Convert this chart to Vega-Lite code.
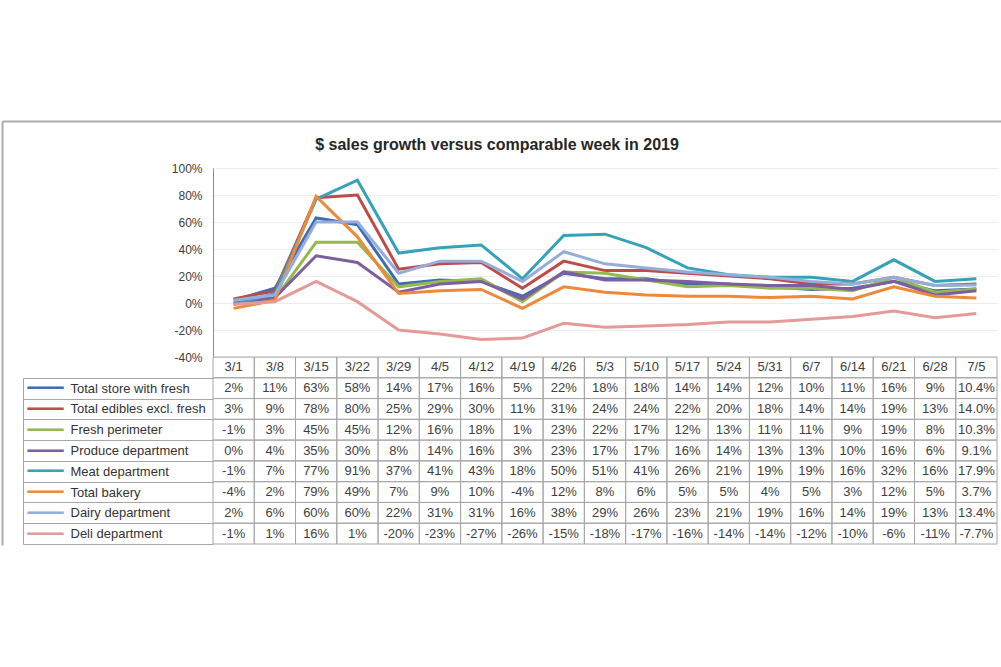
{
  "$schema": "https://vega.github.io/schema/vega-lite/v6.json",
  "width": 784,
  "height": 376,
  "autosize": {"type": "none"},
  "padding": {"left": 213, "top": 168, "right": 4, "bottom": 123},
  "background": "white",
  "title": {"text": "$ sales growth versus comparable week in 2019", "font": "Liberation Sans", "fontSize": 16, "fontWeight": "bold", "color": "#262626", "anchor": "middle", "dx": -108, "dy": 47, "offset": 12},
  "config": {
    "view": {"stroke": null},
    "locale": {"number": {"decimal": ".", "thousands": ",", "grouping": [3], "currency": ["$", ""], "minus": "-"}}
  },
  "datasets": {
    "weeks": [
      {"week": "3/1"}, {"week": "3/8"}, {"week": "3/15"}, {"week": "3/22"}, {"week": "3/29"}, {"week": "4/5"}, {"week": "4/12"}, {"week": "4/19"}, {"week": "4/26"}, {"week": "5/3"}, {"week": "5/10"}, {"week": "5/17"}, {"week": "5/24"}, {"week": "5/31"}, {"week": "6/7"}, {"week": "6/14"}, {"week": "6/21"}, {"week": "6/28"}, {"week": "7/5"}
    ],
    "sales": [
      {"series": "Total store with fresh", "week": "3/1", "value": 0.02},
      {"series": "Total store with fresh", "week": "3/8", "value": 0.11},
      {"series": "Total store with fresh", "week": "3/15", "value": 0.63},
      {"series": "Total store with fresh", "week": "3/22", "value": 0.58},
      {"series": "Total store with fresh", "week": "3/29", "value": 0.14},
      {"series": "Total store with fresh", "week": "4/5", "value": 0.17},
      {"series": "Total store with fresh", "week": "4/12", "value": 0.16},
      {"series": "Total store with fresh", "week": "4/19", "value": 0.05},
      {"series": "Total store with fresh", "week": "4/26", "value": 0.22},
      {"series": "Total store with fresh", "week": "5/3", "value": 0.18},
      {"series": "Total store with fresh", "week": "5/10", "value": 0.18},
      {"series": "Total store with fresh", "week": "5/17", "value": 0.14},
      {"series": "Total store with fresh", "week": "5/24", "value": 0.14},
      {"series": "Total store with fresh", "week": "5/31", "value": 0.12},
      {"series": "Total store with fresh", "week": "6/7", "value": 0.10},
      {"series": "Total store with fresh", "week": "6/14", "value": 0.11},
      {"series": "Total store with fresh", "week": "6/21", "value": 0.16},
      {"series": "Total store with fresh", "week": "6/28", "value": 0.09},
      {"series": "Total store with fresh", "week": "7/5", "value": 0.104},
      {"series": "Total edibles excl. fresh", "week": "3/1", "value": 0.03},
      {"series": "Total edibles excl. fresh", "week": "3/8", "value": 0.09},
      {"series": "Total edibles excl. fresh", "week": "3/15", "value": 0.78},
      {"series": "Total edibles excl. fresh", "week": "3/22", "value": 0.80},
      {"series": "Total edibles excl. fresh", "week": "3/29", "value": 0.25},
      {"series": "Total edibles excl. fresh", "week": "4/5", "value": 0.29},
      {"series": "Total edibles excl. fresh", "week": "4/12", "value": 0.30},
      {"series": "Total edibles excl. fresh", "week": "4/19", "value": 0.11},
      {"series": "Total edibles excl. fresh", "week": "4/26", "value": 0.31},
      {"series": "Total edibles excl. fresh", "week": "5/3", "value": 0.24},
      {"series": "Total edibles excl. fresh", "week": "5/10", "value": 0.24},
      {"series": "Total edibles excl. fresh", "week": "5/17", "value": 0.22},
      {"series": "Total edibles excl. fresh", "week": "5/24", "value": 0.20},
      {"series": "Total edibles excl. fresh", "week": "5/31", "value": 0.18},
      {"series": "Total edibles excl. fresh", "week": "6/7", "value": 0.14},
      {"series": "Total edibles excl. fresh", "week": "6/14", "value": 0.14},
      {"series": "Total edibles excl. fresh", "week": "6/21", "value": 0.19},
      {"series": "Total edibles excl. fresh", "week": "6/28", "value": 0.13},
      {"series": "Total edibles excl. fresh", "week": "7/5", "value": 0.140},
      {"series": "Fresh perimeter", "week": "3/1", "value": -0.01},
      {"series": "Fresh perimeter", "week": "3/8", "value": 0.03},
      {"series": "Fresh perimeter", "week": "3/15", "value": 0.45},
      {"series": "Fresh perimeter", "week": "3/22", "value": 0.45},
      {"series": "Fresh perimeter", "week": "3/29", "value": 0.12},
      {"series": "Fresh perimeter", "week": "4/5", "value": 0.16},
      {"series": "Fresh perimeter", "week": "4/12", "value": 0.18},
      {"series": "Fresh perimeter", "week": "4/19", "value": 0.01},
      {"series": "Fresh perimeter", "week": "4/26", "value": 0.23},
      {"series": "Fresh perimeter", "week": "5/3", "value": 0.22},
      {"series": "Fresh perimeter", "week": "5/10", "value": 0.17},
      {"series": "Fresh perimeter", "week": "5/17", "value": 0.12},
      {"series": "Fresh perimeter", "week": "5/24", "value": 0.13},
      {"series": "Fresh perimeter", "week": "5/31", "value": 0.11},
      {"series": "Fresh perimeter", "week": "6/7", "value": 0.11},
      {"series": "Fresh perimeter", "week": "6/14", "value": 0.09},
      {"series": "Fresh perimeter", "week": "6/21", "value": 0.19},
      {"series": "Fresh perimeter", "week": "6/28", "value": 0.08},
      {"series": "Fresh perimeter", "week": "7/5", "value": 0.103},
      {"series": "Produce department", "week": "3/1", "value": 0.0},
      {"series": "Produce department", "week": "3/8", "value": 0.04},
      {"series": "Produce department", "week": "3/15", "value": 0.35},
      {"series": "Produce department", "week": "3/22", "value": 0.30},
      {"series": "Produce department", "week": "3/29", "value": 0.08},
      {"series": "Produce department", "week": "4/5", "value": 0.14},
      {"series": "Produce department", "week": "4/12", "value": 0.16},
      {"series": "Produce department", "week": "4/19", "value": 0.03},
      {"series": "Produce department", "week": "4/26", "value": 0.23},
      {"series": "Produce department", "week": "5/3", "value": 0.17},
      {"series": "Produce department", "week": "5/10", "value": 0.17},
      {"series": "Produce department", "week": "5/17", "value": 0.16},
      {"series": "Produce department", "week": "5/24", "value": 0.14},
      {"series": "Produce department", "week": "5/31", "value": 0.13},
      {"series": "Produce department", "week": "6/7", "value": 0.13},
      {"series": "Produce department", "week": "6/14", "value": 0.10},
      {"series": "Produce department", "week": "6/21", "value": 0.16},
      {"series": "Produce department", "week": "6/28", "value": 0.06},
      {"series": "Produce department", "week": "7/5", "value": 0.091},
      {"series": "Meat department", "week": "3/1", "value": -0.01},
      {"series": "Meat department", "week": "3/8", "value": 0.07},
      {"series": "Meat department", "week": "3/15", "value": 0.77},
      {"series": "Meat department", "week": "3/22", "value": 0.91},
      {"series": "Meat department", "week": "3/29", "value": 0.37},
      {"series": "Meat department", "week": "4/5", "value": 0.41},
      {"series": "Meat department", "week": "4/12", "value": 0.43},
      {"series": "Meat department", "week": "4/19", "value": 0.18},
      {"series": "Meat department", "week": "4/26", "value": 0.50},
      {"series": "Meat department", "week": "5/3", "value": 0.51},
      {"series": "Meat department", "week": "5/10", "value": 0.41},
      {"series": "Meat department", "week": "5/17", "value": 0.26},
      {"series": "Meat department", "week": "5/24", "value": 0.21},
      {"series": "Meat department", "week": "5/31", "value": 0.19},
      {"series": "Meat department", "week": "6/7", "value": 0.19},
      {"series": "Meat department", "week": "6/14", "value": 0.16},
      {"series": "Meat department", "week": "6/21", "value": 0.32},
      {"series": "Meat department", "week": "6/28", "value": 0.16},
      {"series": "Meat department", "week": "7/5", "value": 0.179},
      {"series": "Total bakery", "week": "3/1", "value": -0.04},
      {"series": "Total bakery", "week": "3/8", "value": 0.02},
      {"series": "Total bakery", "week": "3/15", "value": 0.79},
      {"series": "Total bakery", "week": "3/22", "value": 0.49},
      {"series": "Total bakery", "week": "3/29", "value": 0.07},
      {"series": "Total bakery", "week": "4/5", "value": 0.09},
      {"series": "Total bakery", "week": "4/12", "value": 0.10},
      {"series": "Total bakery", "week": "4/19", "value": -0.04},
      {"series": "Total bakery", "week": "4/26", "value": 0.12},
      {"series": "Total bakery", "week": "5/3", "value": 0.08},
      {"series": "Total bakery", "week": "5/10", "value": 0.06},
      {"series": "Total bakery", "week": "5/17", "value": 0.05},
      {"series": "Total bakery", "week": "5/24", "value": 0.05},
      {"series": "Total bakery", "week": "5/31", "value": 0.04},
      {"series": "Total bakery", "week": "6/7", "value": 0.05},
      {"series": "Total bakery", "week": "6/14", "value": 0.03},
      {"series": "Total bakery", "week": "6/21", "value": 0.12},
      {"series": "Total bakery", "week": "6/28", "value": 0.05},
      {"series": "Total bakery", "week": "7/5", "value": 0.037},
      {"series": "Dairy department", "week": "3/1", "value": 0.02},
      {"series": "Dairy department", "week": "3/8", "value": 0.06},
      {"series": "Dairy department", "week": "3/15", "value": 0.60},
      {"series": "Dairy department", "week": "3/22", "value": 0.60},
      {"series": "Dairy department", "week": "3/29", "value": 0.22},
      {"series": "Dairy department", "week": "4/5", "value": 0.31},
      {"series": "Dairy department", "week": "4/12", "value": 0.31},
      {"series": "Dairy department", "week": "4/19", "value": 0.16},
      {"series": "Dairy department", "week": "4/26", "value": 0.38},
      {"series": "Dairy department", "week": "5/3", "value": 0.29},
      {"series": "Dairy department", "week": "5/10", "value": 0.26},
      {"series": "Dairy department", "week": "5/17", "value": 0.23},
      {"series": "Dairy department", "week": "5/24", "value": 0.21},
      {"series": "Dairy department", "week": "5/31", "value": 0.19},
      {"series": "Dairy department", "week": "6/7", "value": 0.16},
      {"series": "Dairy department", "week": "6/14", "value": 0.14},
      {"series": "Dairy department", "week": "6/21", "value": 0.19},
      {"series": "Dairy department", "week": "6/28", "value": 0.13},
      {"series": "Dairy department", "week": "7/5", "value": 0.134},
      {"series": "Deli department", "week": "3/1", "value": -0.01},
      {"series": "Deli department", "week": "3/8", "value": 0.01},
      {"series": "Deli department", "week": "3/15", "value": 0.16},
      {"series": "Deli department", "week": "3/22", "value": 0.01},
      {"series": "Deli department", "week": "3/29", "value": -0.20},
      {"series": "Deli department", "week": "4/5", "value": -0.23},
      {"series": "Deli department", "week": "4/12", "value": -0.27},
      {"series": "Deli department", "week": "4/19", "value": -0.26},
      {"series": "Deli department", "week": "4/26", "value": -0.15},
      {"series": "Deli department", "week": "5/3", "value": -0.18},
      {"series": "Deli department", "week": "5/10", "value": -0.17},
      {"series": "Deli department", "week": "5/17", "value": -0.16},
      {"series": "Deli department", "week": "5/24", "value": -0.14},
      {"series": "Deli department", "week": "5/31", "value": -0.14},
      {"series": "Deli department", "week": "6/7", "value": -0.12},
      {"series": "Deli department", "week": "6/14", "value": -0.10},
      {"series": "Deli department", "week": "6/21", "value": -0.06},
      {"series": "Deli department", "week": "6/28", "value": -0.11},
      {"series": "Deli department", "week": "7/5", "value": -0.077}
    ]
  },
  "layer": [
    {
      "data": {"name": "weeks"},
      "mark": {"type": "point", "opacity": 0},
      "encoding": {
        "x": {"field": "week", "type": "nominal", "sort": null,
              "scale": {"type": "point", "domain": ["3/1","3/8","3/15","3/22","3/29","4/5","4/12","4/19","4/26","5/3","5/10","5/17","5/24","5/31","6/7","6/14","6/21","6/28","7/5"], "range": [-211, 788], "padding": 0},
              "axis": {"orient": "top", "offset": 47, "title": null, "domain": true, "domainColor": "#ababab", "domainWidth": 2, "ticks": false, "labels": false, "grid": false}},
        "y": {"field": "week", "type": "nominal", "sort": null,
              "scale": {"type": "point", "domain": ["3/1","3/8","3/15","3/22","3/29","4/5","4/12","4/19","4/26","5/3","5/10","5/17","5/24","5/31","6/7","6/14","6/21","6/28","7/5"], "range": [-47, 377], "padding": 0},
              "axis": {"orient": "left", "offset": 211, "title": null, "domain": true, "domainColor": "#ababab", "domainWidth": 2, "ticks": false, "labels": false, "grid": false}}
      }
    },
    {
      "data": {"name": "sales"},
      "mark": {"type": "line", "strokeWidth": 3},
      "encoding": {
        "x": {"field": "week", "type": "nominal", "sort": null, "axis": null,
              "scale": {"type": "band", "domain": ["3/1","3/8","3/15","3/22","3/29","4/5","4/12","4/19","4/26","5/3","5/10","5/17","5/24","5/31","6/7","6/14","6/21","6/28","7/5"], "paddingInner": 0, "paddingOuter": 0}},
        "y": {"field": "value", "type": "quantitative",
              "scale": {"domain": [-0.4, 1], "range": [189, 0], "nice": false, "zero": false},
              "axis": {"orient": "left", "title": null, "values": [-0.4, -0.2, 0, 0.2, 0.4, 0.6, 0.8, 1], "format": ".0%", "domain": true, "domainColor": "#8c8c8c", "ticks": false, "labelPadding": 11, "labelFont": "Liberation Sans", "labelFontSize": 12, "labelColor": "#404040", "grid": true, "gridColor": "#ececec"}},
        "color": {"field": "series", "type": "nominal", "legend": null,
                  "scale": {"domain": ["Total store with fresh", "Total edibles excl. fresh", "Fresh perimeter", "Produce department", "Meat department", "Total bakery", "Dairy department", "Deli department"],
                            "range": ["#3F6DB3", "#BE4B48", "#94B94F", "#7D5FA0", "#35A2BA", "#F0883A", "#95ADDB", "#E39A98"]}}
      }
    },
    {
      "data": {"name": "weeks"},
      "encoding": {
        "x": {"field": "week", "type": "nominal", "sort": null, "axis": null,
              "scale": {"type": "band", "domain": ["3/1","3/8","3/15","3/22","3/29","4/5","4/12","4/19","4/26","5/3","5/10","5/17","5/24","5/31","6/7","6/14","6/21","6/28","7/5"], "paddingInner": 0, "paddingOuter": 0}},
        "y": {"datum": "header", "type": "nominal",
              "scale": {"type": "band", "domain": ["header", "Total store with fresh", "Total edibles excl. fresh", "Fresh perimeter", "Produce department", "Meat department", "Total bakery", "Dairy department", "Deli department"], "range": [189, 376], "paddingInner": 0, "paddingOuter": 0},
              "axis": {"orient": "left", "title": null, "values": ["Total store with fresh", "Total edibles excl. fresh", "Fresh perimeter", "Produce department", "Meat department", "Total bakery", "Dairy department", "Deli department"], "tickBand": "extent", "ticks": true, "tickSize": 190, "tickColor": "#a6a6a6", "tickWidth": 1, "domain": false, "grid": false, "labelAlign": "left", "labelBaseline": "middle", "labelPadding": -47, "labelFont": "Liberation Sans", "labelFontSize": 13, "labelColor": "#333333"}}
      },
      "layer": [
        {"mark": {"type": "rect", "filled": false, "stroke": "#a6a6a6", "strokeWidth": 1}},
        {"mark": {"type": "text", "font": "Liberation Sans", "fontSize": 13, "color": "#404040", "align": "center", "baseline": "middle"},
         "encoding": {"text": {"field": "week", "type": "nominal"}}}
      ]
    },
    {
      "data": {"name": "sales"},
      "encoding": {
        "x": {"field": "week", "type": "nominal", "sort": null, "axis": null,
              "scale": {"type": "band", "domain": ["3/1","3/8","3/15","3/22","3/29","4/5","4/12","4/19","4/26","5/3","5/10","5/17","5/24","5/31","6/7","6/14","6/21","6/28","7/5"], "paddingInner": 0, "paddingOuter": 0}},
        "y": {"field": "series", "type": "nominal", "sort": null,
              "scale": {"type": "band", "domain": ["Total store with fresh", "Total edibles excl. fresh", "Fresh perimeter", "Produce department", "Meat department", "Total bakery", "Dairy department", "Deli department"], "range": [209.78, 376], "paddingInner": 0, "paddingOuter": 0},
              "axis": {"orient": "left", "offset": 190, "title": null, "domain": true, "domainColor": "#a6a6a6", "ticks": false, "grid": false, "labelExpr": "'━━━━'", "labelAlign": "left", "labelBaseline": "middle", "labelPadding": -4, "labelFont": "DejaVu Sans", "labelFontSize": 15, "labelFontWeight": "bold",
                       "labelColor": {"condition": [
                         {"test": "datum.value === 'Total store with fresh'", "value": "#3F6DB3"},
                         {"test": "datum.value === 'Total edibles excl. fresh'", "value": "#BE4B48"},
                         {"test": "datum.value === 'Fresh perimeter'", "value": "#94B94F"},
                         {"test": "datum.value === 'Produce department'", "value": "#7D5FA0"},
                         {"test": "datum.value === 'Meat department'", "value": "#35A2BA"},
                         {"test": "datum.value === 'Total bakery'", "value": "#F0883A"},
                         {"test": "datum.value === 'Dairy department'", "value": "#95ADDB"}
                       ], "value": "#E39A98"}}}
      },
      "layer": [
        {"mark": {"type": "rect", "filled": false, "stroke": "#a6a6a6", "strokeWidth": 1}},
        {"mark": {"type": "text", "font": "Liberation Sans", "fontSize": 13, "color": "#404040", "align": "center", "baseline": "middle"},
         "encoding": {"text": {"condition": {"test": "datum.week === '7/5'", "field": "value", "type": "quantitative", "format": ".1%"}, "field": "value", "type": "quantitative", "format": ".0%"}}}
      ]
    }
  ],
  "resolve": {"scale": {"x": "independent", "y": "independent"}, "axis": {"x": "independent", "y": "independent"}}
}
